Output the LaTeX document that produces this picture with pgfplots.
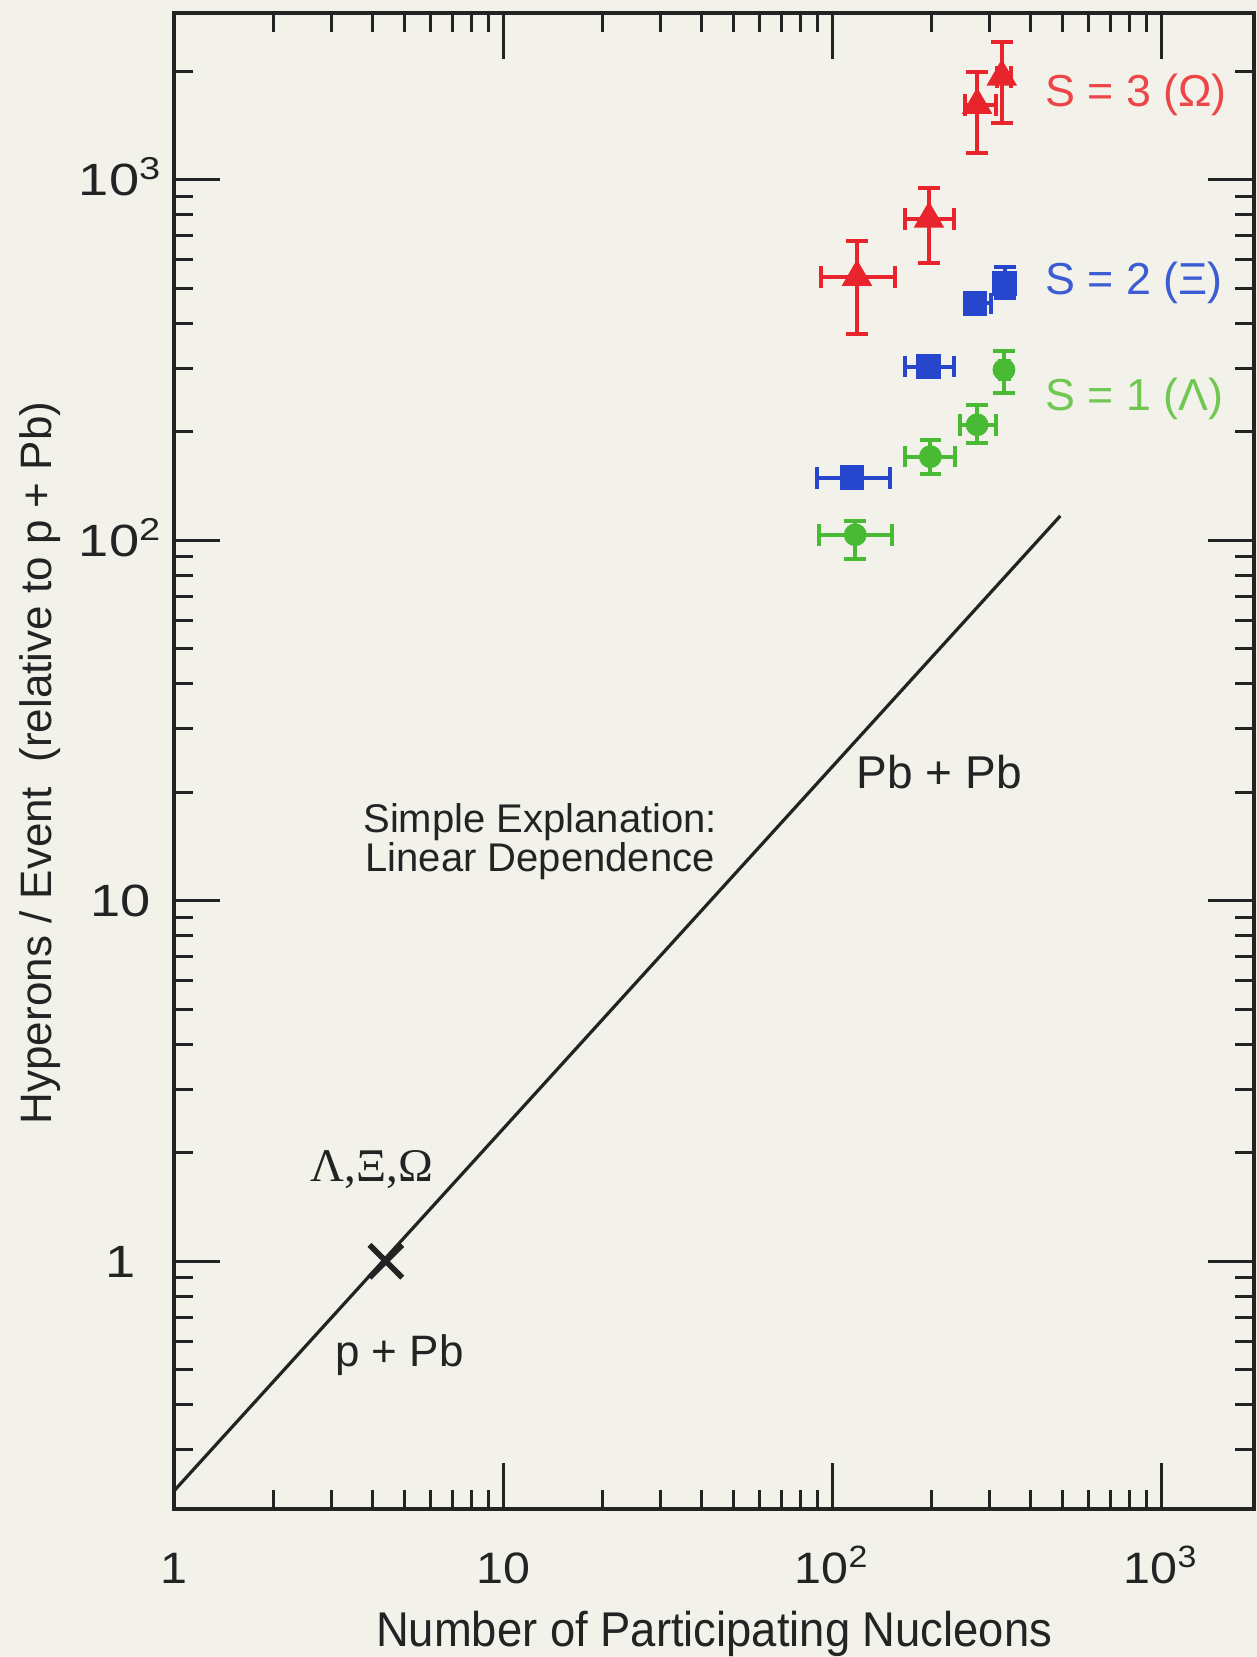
\documentclass[border=0pt]{standalone}
\usepackage{fontspec}
\setmainfont{Liberation Sans}
\newfontfamily\seriffont{Liberation Serif}
\newfontfamily\wideA[FakeStretch=1.2]{Liberation Sans}
\newfontfamily\wideB[FakeStretch=1.1]{Liberation Sans}
\newfontfamily\narrowfont[FakeStretch=0.93]{Liberation Sans}
\usepackage{pgfplots}
\pgfplotsset{compat=1.18}
\usetikzlibrary{backgrounds}
\definecolor{bg}{RGB}{242,241,234}
\definecolor{ink}{RGB}{35,35,35}
\definecolor{cred}{RGB}{232,36,44}
\definecolor{cblue}{RGB}{38,70,205}
\definecolor{cgreen}{RGB}{72,186,52}
\definecolor{tred}{RGB}{236,70,72}
\definecolor{tblue}{RGB}{60,92,212}
\definecolor{tgreen}{RGB}{112,200,82}
\begin{document}
\begin{tikzpicture}
\begin{axis}[
  name=ax,
  scale only axis,
  width=270bp, height=374bp,
  xmode=log, ymode=log,
  xmin=1, xmax=1920, ymin=0.2055, ymax=2900,
  clip=false,
  axis line style={line width=1bp, ink},
  tick style={line width=0.75bp, ink},
  major tick length=11.5bp, minor tick length=4.7bp,
  tick align=inside,
  xtick={1,10,100,1000},
  xticklabels={1,10,10\textsuperscript{2},10\textsuperscript{3}},
  ytick={1,10,100,1000},
  yticklabels={1,10,10\textsuperscript{2},10\textsuperscript{3}},
  minor xtick={2,3,4,5,6,7,8,9,20,30,40,50,60,70,80,90,200,300,400,500,600,700,800,900},
  minor ytick={0.3,0.4,0.5,0.6,0.7,0.8,0.9,2,3,4,5,6,7,8,9,20,30,40,50,60,70,80,90,200,300,400,500,600,700,800,900,2000},
  xticklabel style={anchor=base, yshift=-18.5bp, font=\wideB\fontsize{11bp}{13bp}\selectfont, text=ink},
  yticklabel style={anchor=base, xshift=-13.4bp, yshift=-4bp, font=\wideA\fontsize{11.3bp}{13bp}\selectfont, text=ink},
  xlabel={Number of Participating Nucleons},
  ylabel={Hyperons / Event \ (relative to p + Pb)},
  x label style={at={(axis description cs:0.5,-0.0922)}, anchor=base, font=\narrowfont\fontsize{12.2bp}{14bp}\selectfont, text=ink},
  y label style={at={(axis description cs:-0.1241,0.4987)}, anchor=center, font=\fontsize{11bp}{13bp}\selectfont, text=ink},
  error bars/error bar style={line width=1bp},
  error bars/error mark options={rotate=90, mark size=2.7bp, line width=1bp},
]
% linear dependence line
\addplot[line width=0.8bp, ink, no markers] coordinates {(1,0.231) (494,116.8)};
% p+Pb reference point
\addplot[only marks, mark=x, mark size=5.8bp, line width=1.4bp, ink] coordinates {(4.4,1.0)};

% S = 3 (Omega)
\addplot[only marks, mark=triangle*, mark size=4bp, cred,
  error bars/.cd, x dir=both, x explicit, y dir=both, y explicit]
coordinates {
  (119,537) += (36,139) -= (26.4,164)
  (197,779) += (38,169) -= (30,192)
  (276,1611) += (40,383) -= (22,427)
  (328,1930) += (22,485) -= (10,490)
};
% S = 2 (Xi)
\addplot[only marks, mark=square*, mark size=2.9bp, cblue,
  error bars/.cd, x dir=both, x explicit, y dir=both, y explicit]
coordinates {
  (115,149) += (35,8) -= (25,8)
  (196,303) += (38,15) -= (29,15)
  (272,454) += (33,20) -= (18,20)
  (335,516) += (10,55) -= (10,45)
};
% S = 1 (Lambda)
\addplot[only marks, mark=*, mark size=2.65bp, cgreen,
  error bars/.cd, x dir=both, x explicit, y dir=both, y explicit]
coordinates {
  (117.6,103.5) += (34.4,9.5) -= (26.6,14.8)
  (199,170.5) += (38,19.5) -= (32,17.5)
  (276,209) += (40,28) -= (31,23)
  (333,297) += (12,37) -= (10,41)
};

\node[anchor=west, inner xsep=0pt, text=tred, font=\fontsize{11.2bp}{13bp}\selectfont] at (axis cs:442,1717) {S = 3 (Ω)};
\node[anchor=west, inner xsep=0pt, text=tblue, font=\fontsize{11.2bp}{13bp}\selectfont] at (axis cs:442,516) {S = 2 (Ξ)};
\node[anchor=west, inner xsep=0pt, text=tgreen, font=\fontsize{11.2bp}{13bp}\selectfont] at (axis cs:442,247) {S = 1 (Λ)};

\node[text=ink, font=\seriffont\fontsize{11.7bp}{13bp}\selectfont] at (axis cs:3.99,1.79) {Λ,Ξ,Ω};
\node[text=ink, font=\fontsize{11bp}{13bp}\selectfont] at (axis cs:4.84,0.548) {p + Pb};
\node[text=ink, align=center, font=\fontsize{10bp}{9.8bp}\selectfont] at (axis cs:12.96,14.6) {Simple Explanation:\\Linear Dependence};
\node[text=ink, font=\fontsize{11.5bp}{13bp}\selectfont] at (axis cs:212,22.8) {Pb + Pb};
\end{axis}
\begin{scope}[on background layer]
\fill[bg] ([xshift=-43.55bp,yshift=-37bp]ax.south west) rectangle ([xshift=0.6bp,yshift=3.25bp]ax.north east);
\end{scope}
\pgfresetboundingbox
\path[use as bounding box] ([xshift=-43.55bp,yshift=-37bp]ax.south west) rectangle ([xshift=0.6bp,yshift=3.25bp]ax.north east);
\end{tikzpicture}
\end{document}
